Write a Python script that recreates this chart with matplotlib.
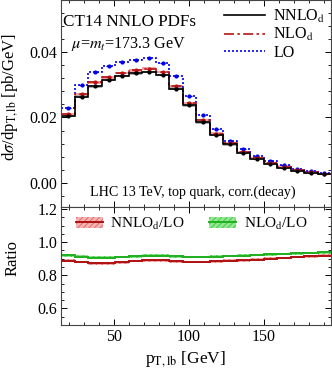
import numpy as np
import matplotlib
matplotlib.use("Agg")
import matplotlib.pyplot as plt
from matplotlib.patches import Patch
from matplotlib.lines import Line2D
from matplotlib.ticker import MultipleLocator

plt.rcParams['font.family'] = ['Liberation Serif', 'DejaVu Serif']
plt.rcParams['mathtext.fontset'] = 'stix'
plt.rcParams['hatch.linewidth'] = 0.6

# bin edges in p_T,lb [GeV]
edges = np.arange(15, 196, 9)

# differential cross sections [pb/GeV]
nnlo = [0.0204, 0.0263, 0.0295, 0.0314, 0.0326, 0.0334, 0.0339, 0.0329, 0.0288, 0.0237,
        0.0185, 0.0146, 0.0118, 0.0092, 0.0073, 0.0058, 0.0047, 0.0037, 0.0031, 0.0027]
nlo = [0.0210, 0.0271, 0.0307, 0.0322, 0.0336, 0.0344, 0.0349, 0.0339, 0.0296, 0.0244,
       0.0192, 0.0151, 0.0121, 0.0095, 0.0076, 0.0060, 0.0050, 0.0040, 0.0033, 0.0028]
lo = [0.0229, 0.0298, 0.0339, 0.0357, 0.0370, 0.0376, 0.0381, 0.0367, 0.0326, 0.0266,
      0.0208, 0.0166, 0.0129, 0.0104, 0.0082, 0.0066, 0.0054, 0.0043, 0.0036, 0.0030]

# ratios to LO
ratio_nnlo = [0.888, 0.880, 0.872, 0.872, 0.878, 0.886, 0.890, 0.890, 0.884, 0.880,
              0.880, 0.884, 0.888, 0.890, 0.895, 0.900, 0.905, 0.910, 0.914, 0.918]
ratio_nlo = [0.921, 0.912, 0.906, 0.906, 0.910, 0.915, 0.919, 0.919, 0.914, 0.910,
             0.910, 0.913, 0.916, 0.919, 0.922, 0.926, 0.929, 0.932, 0.935, 0.938]
band = 0.008

centers = 0.5 * (edges[:-1] + edges[1:])
nnlo, nlo, lo = np.array(nnlo), np.array(nlo), np.array(lo)
ratio_nnlo, ratio_nlo = np.array(ratio_nnlo), np.array(ratio_nlo)

fig = plt.figure(figsize=(3.32, 3.69), dpi=100)
ax1 = fig.add_axes([0.185, 0.440, 0.812, 0.559])
ax2 = fig.add_axes([0.185, 0.119, 0.812, 0.321])

black = 'black'
red = '#b81414'
blue = '#0000ee'
dashdot = (0, (6, 2, 1.5, 2))
dotted = (0, (1.2, 1.2))

# top panel
ax1.stairs(nnlo + 0.0004, edges, baseline=nnlo - 0.0004, fill=True, color='#b0b0b0', lw=0)
ax1.stairs(nlo + 0.0004, edges, baseline=nlo - 0.0004, fill=True, color='#f0a0a0', lw=0)
ax1.stairs(lo, edges, baseline=None, color=blue, lw=1.2, linestyle=dotted)
ax1.stairs(nlo, edges, baseline=None, color=red, lw=1.2, linestyle=dashdot)
ax1.stairs(nnlo, edges, baseline=None, color=black, lw=1.2)
for y, c in [(lo, blue), (nlo, red), (nnlo, black)]:
    ax1.errorbar(centers, y, xerr=1.6, yerr=0.0003, fmt='o', ms=2.0, color=c, lw=0.9)

ax1.set_xlim(15, 195)
ax1.set_ylim(-0.0072, 0.0557)
ax1.set_yticks([0.0, 0.02, 0.04])
ax1.set_yticklabels(['0.00', '0.02', '0.04'])
ax1.yaxis.set_minor_locator(MultipleLocator(0.004))
ax1.xaxis.set_major_locator(MultipleLocator(50))
ax1.xaxis.set_minor_locator(MultipleLocator(10))
ax1.tick_params(labelbottom=False)
ax1.set_ylabel(r'd$\sigma$/dp$_{\mathrm{T,lb}}$ [pb/GeV]', fontsize=12)
ax1.yaxis.set_label_coords(-0.152, 0.53)

ax1.text(0.005, 0.895, 'CT14 NNLO PDFs', transform=ax1.transAxes, fontsize=12.3, va='center')
ax1.text(0.036, 0.79, r'$\mu$=$m_t$=173.3 GeV', transform=ax1.transAxes, fontsize=11.6, va='center')
ax1.text(0.487, 0.068, 'LHC 13 TeV, top quark, corr.(decay)', transform=ax1.transAxes,
         fontsize=10.1, ha='center', va='center')

handles = [Line2D([], [], color=black, lw=1.2),
           Line2D([], [], color=red, lw=1.2, linestyle=dashdot),
           Line2D([], [], color=blue, lw=1.2, linestyle=dotted)]
ax1.legend(handles, [r'NNLO$_{\mathrm{d}}$', r'NLO$_{\mathrm{d}}$', 'LO'], loc='upper right',
           bbox_to_anchor=(1.02, 1.02), frameon=False, fontsize=11.5, handlelength=2.6,
           handletextpad=0.5, labelspacing=0.1, borderaxespad=0.3)

# bottom panel
ax2.stairs(ratio_nnlo + band, edges, baseline=ratio_nnlo - band, fill=True,
           facecolor='#f4b4b4', edgecolor='#e06060', hatch='//////', lw=0)
ax2.stairs(ratio_nlo + band, edges, baseline=ratio_nlo - band, fill=True,
           facecolor='#90e890', edgecolor='#40c040', hatch='//////', lw=0)
ax2.stairs(ratio_nnlo, edges, baseline=None, color='#b01010', lw=1.4)
ax2.stairs(ratio_nlo, edges, baseline=None, color='#20b020', lw=1.4)

ax2.set_xlim(15, 195)
ax2.set_ylim(0.5, 1.214)
ax2.set_yticks([0.6, 0.8, 1.0, 1.2])
ax2.yaxis.set_minor_locator(MultipleLocator(0.05))
ax2.xaxis.set_major_locator(MultipleLocator(50))
ax2.xaxis.set_minor_locator(MultipleLocator(10))
ax2.set_ylabel('Ratio', fontsize=12)
ax2.yaxis.set_label_coords(-0.152, 0.57)
ax2.set_xlabel(r'p$_{\mathrm{T,lb}}$ [GeV]', fontsize=12.5)
ax2.xaxis.set_label_coords(0.46, -0.205)

lh = [(Patch(facecolor='#f4b4b4', edgecolor='#e06060', hatch='//////', lw=0),
       Line2D([], [], color='#b01010', lw=1.4)),
      (Patch(facecolor='#90e890', edgecolor='#40c040', hatch='//////', lw=0),
       Line2D([], [], color='#20b020', lw=1.4))]
ax2.legend(lh, [r'NNLO$_{\mathrm{d}}$/LO', r'NLO$_{\mathrm{d}}$/LO'], ncol=2, loc='upper left',
           bbox_to_anchor=(0.02, 1.0), frameon=False, fontsize=11, handlelength=1.75,
           handletextpad=0.5, columnspacing=1.6, borderaxespad=0.2)

for ax in (ax1, ax2):
    ax.tick_params(which='both', direction='in', top=True, right=True, labelsize=11.5)
    ax.tick_params(which='major', length=4, width=0.7, pad=3)
    ax.tick_params(which='minor', length=2, width=0.6)
    for s in ax.spines.values():
        s.set_linewidth(0.8)
        s.set_color('#444444')

fig.savefig('out.png', dpi=100)
